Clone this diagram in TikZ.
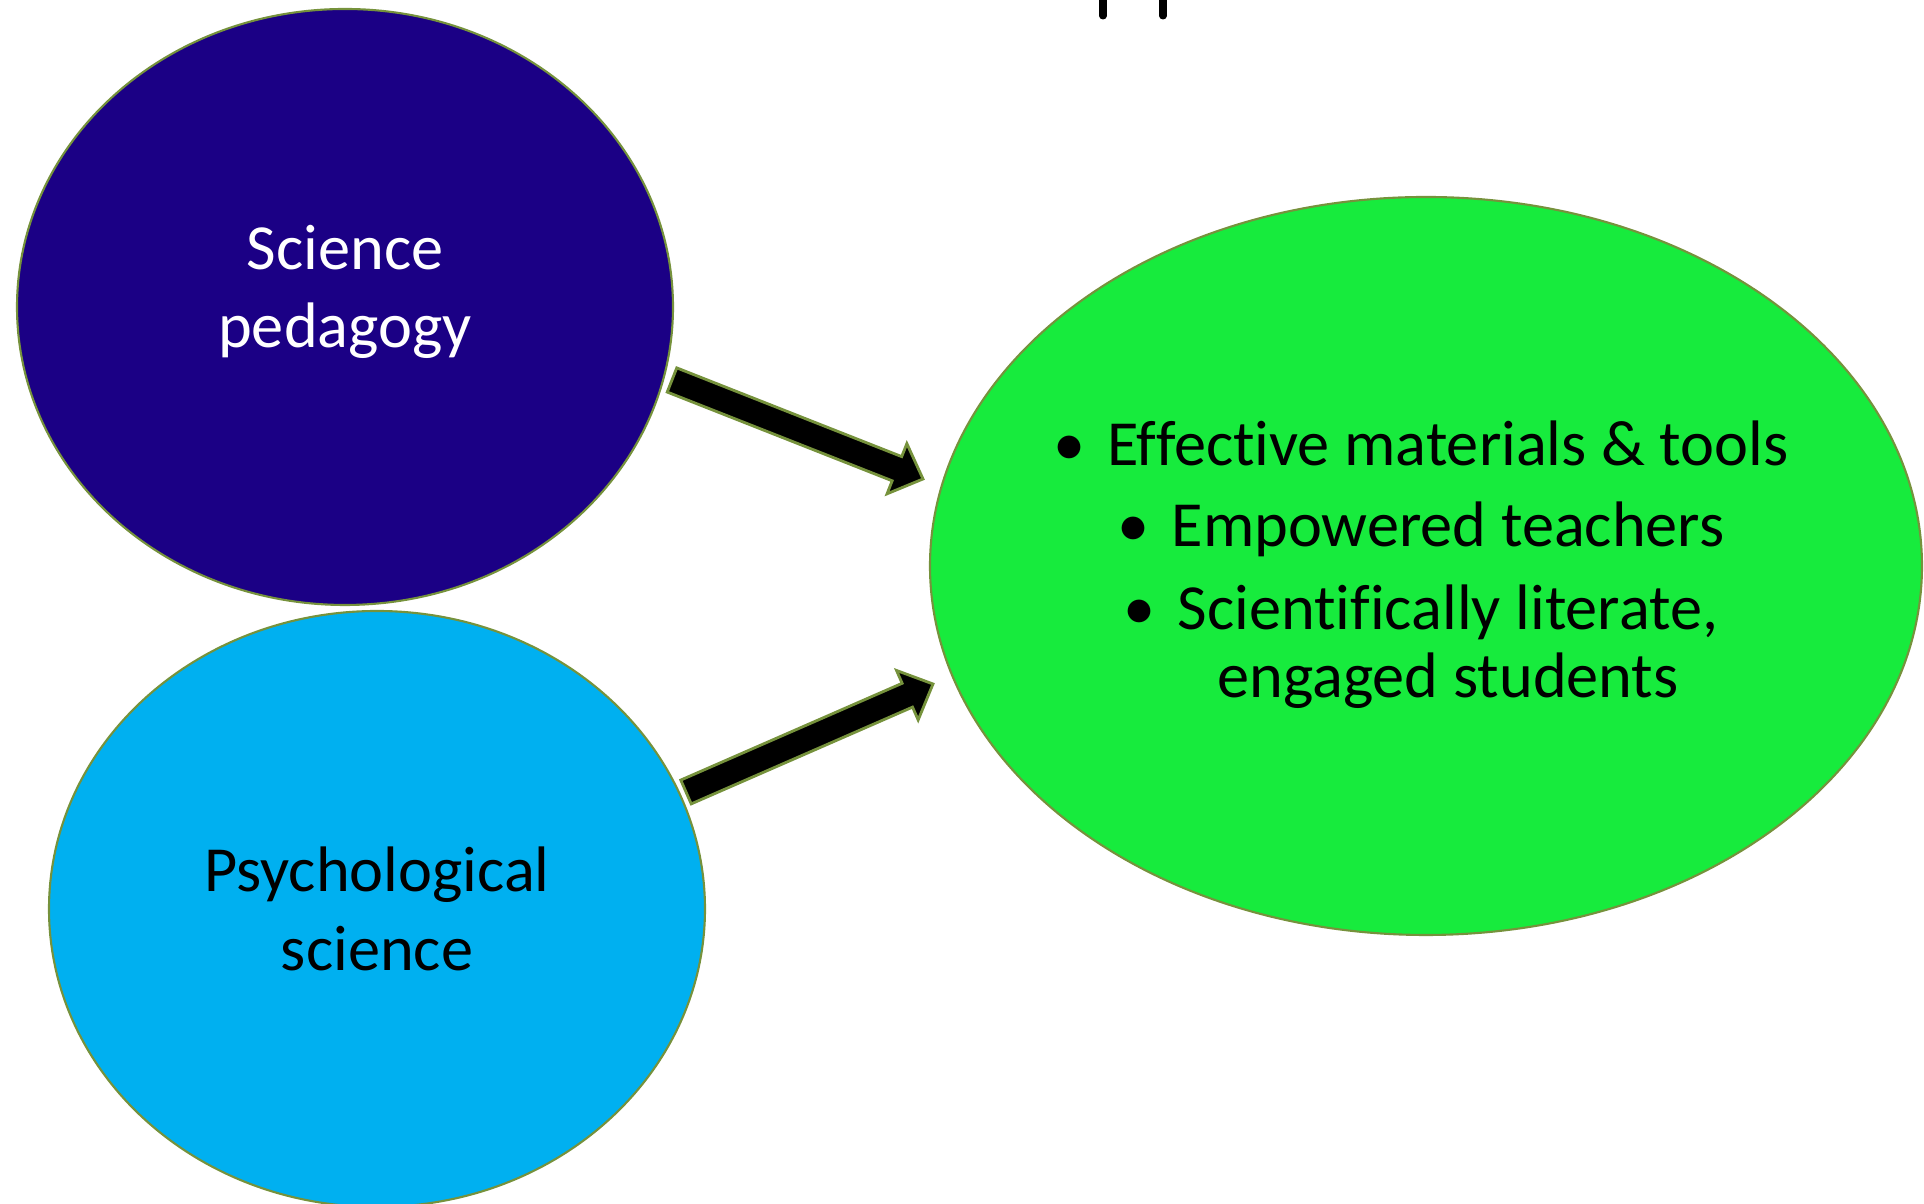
\documentclass[tikz,border=0pt]{standalone}
\usepackage{fontspec}
\setmainfont{Carlito}[Ligatures=NoCommon]
\usetikzlibrary{shapes.geometric,calc}
\definecolor{indigo}{RGB}{27,0,133}
\definecolor{skyblue}{RGB}{0,176,240}
\definecolor{brightgreen}{RGB}{23,235,61}
\definecolor{olivelines}{RGB}{118,146,60}
\tikzset{
  blob/.style={ellipse,draw=olivelines,line width=0.6pt,inner sep=0pt},
  txt/.style={align=center,font=\fontsize{18.3}{22.3}\selectfont},
  arrowbody/.style={fill=black,draw=olivelines,line width=0.8pt,line join=miter}
}
\begin{document}
\begin{tikzpicture}
\useasboundingbox (0,0) rectangle (19.24,12.04);
% the three circles
\node[blob,fill=indigo,minimum width=6.56cm,minimum height=5.96cm](sci) at(3.45,8.97){};
\node[blob,fill=skyblue,minimum width=6.56cm,minimum height=5.96cm](psy) at(3.77,2.95){};
\node[blob,fill=brightgreen,minimum width=9.92cm,minimum height=7.38cm](out) at(14.26,6.38){};
\node[txt,text=white](scitxt) at(3.45,9.12){Science\\pedagogy};
\node[txt](psytxt) at(3.77,2.95){Psychological\\science};
\node[txt,font=\fontsize{18.3}{19.3}\selectfont](outtxt) at(14.21,6.39){%
  \textbullet\hspace{0.22cm}Effective materials \& tools\\[3.5pt]
  \textbullet\hspace{0.22cm}Empowered teachers\\[4.5pt]
  \textbullet\hspace{0.22cm}Scientifically literate,\\
  \phantom{\textbullet\hspace{0.22cm}}engaged students};
% block arrows
\coordinate (ta) at(6.72,8.24);
\coordinate (ha) at(9.23,7.25);
\coordinate (tb) at(6.86,4.12);
\coordinate (hb) at(9.33,5.20);
\foreach \a/\b in {ta/ha,tb/hb}{
  \coordinate (n) at ($(\b)!0.28cm!(\a)$);
  \filldraw[arrowbody] ($(\a)!0.13cm!90:(\b)$) -- ($(n)!0.13cm!-90:(\a)$)
    -- ($(n)!0.27cm!-90:(\a)$) -- (\b) -- ($(n)!0.27cm!90:(\a)$)
    -- ($(n)!0.13cm!90:(\a)$) -- ($(\a)!0.13cm!-90:(\b)$) -- cycle;
}
% cut-off title strokes
\foreach \x in {11.03,11.63}
\draw[line width=2pt,line cap=round](\x,12.2)--(\x,11.88);
\end{tikzpicture}
\end{document}
